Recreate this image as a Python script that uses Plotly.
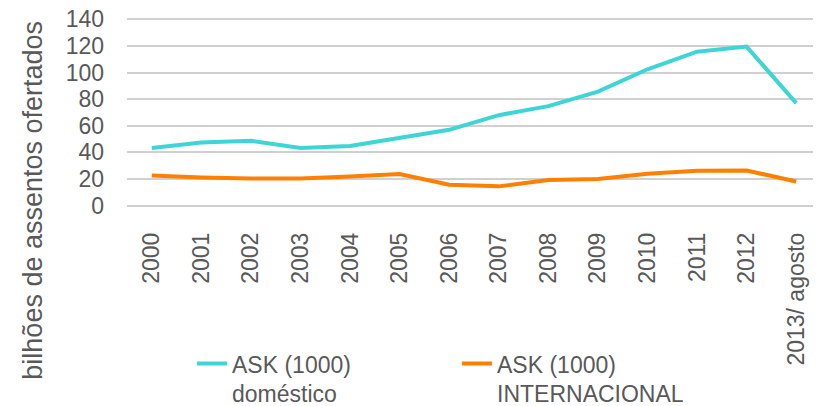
import plotly.graph_objects as go

categories = ["2000", "2001", "2002", "2003", "2004", "2005", "2006", "2007",
              "2008", "2009", "2010", "2011", "2012", "2013/ agosto"]
domestico = [43.3, 47.5, 48.7, 43.3, 44.8, 51.2, 57.0, 68.0, 74.8, 85.7, 102.5, 115.7, 119.5, 77.0]
internacional = [22.7, 21.2, 20.5, 20.5, 22.0, 23.8, 15.7, 14.5, 19.2, 20.0, 24.0, 26.2, 26.4, 18.2]
series_names = ["ASK (1000)<br>doméstico", "ASK (1000)<br>INTERNACIONAL"]
y_ticks = [0, 20, 40, 60, 80, 100, 120, 140]
y_title = "bilhões de assentos ofertados"

FONT = "Liberation Sans, Arial, sans-serif"
GREY = "#595959"

fig = go.Figure()
fig.add_trace(go.Scatter(x=list(range(len(categories))), y=domestico, mode="lines",
                         name=series_names[0], line=dict(color="#3DD5D6", width=4)))
fig.add_trace(go.Scatter(x=list(range(len(categories))), y=internacional, mode="lines",
                         name=series_names[1], line=dict(color="#FF8000", width=4)))

fig.update_layout(
    width=813, height=398,
    margin=dict(l=119, r=0, t=10, b=199, autoexpand=False),
    plot_bgcolor="white", paper_bgcolor="white",
    font=dict(family=FONT, size=23, color=GREY),
    showlegend=True,
    legend=dict(orientation="h", x=0.0937, xanchor="left", y=-0.715, yanchor="top",
                valign="top", entrywidth=220, entrywidthmode="pixels",
                font=dict(family=FONT, size=23, color=GREY)),
    xaxis=dict(range=[-0.5, 13.5], tickmode="array", tickvals=list(range(len(categories))),
               ticktext=categories, tickangle=-90, showgrid=False, zeroline=False,
               showline=False, ticks="", ticklabelstandoff=20, automargin=False,
               ticklabeloverflow="allow",
               tickfont=dict(family=FONT, size=23, color=GREY)),
    yaxis=dict(range=[-1, 141], tickmode="array", tickvals=y_ticks, showgrid=True,
               gridcolor="#D0D0D0", gridwidth=2, zeroline=False, showline=False,
               ticks="", ticklabelstandoff=22, automargin=False,
               ticklabeloverflow="allow",
               tickfont=dict(family=FONT, size=23, color=GREY)),
    annotations=[dict(text=y_title, textangle=-90, xref="paper", yref="paper",
                      x=-0.1355, y=0.0386, xanchor="center", yanchor="middle",
                      showarrow=False, font=dict(family=FONT, size=27, color=GREY))],
)

fig.write_html("out.html")
